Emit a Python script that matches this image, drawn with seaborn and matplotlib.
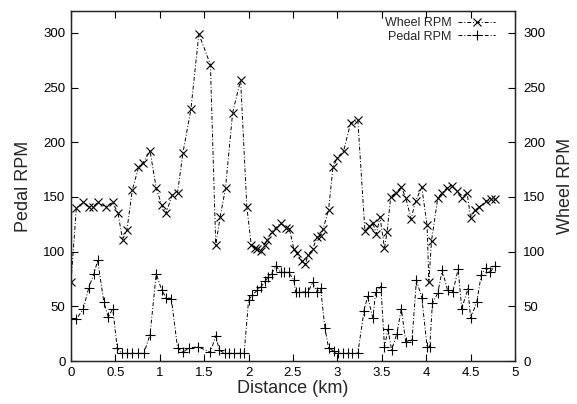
import matplotlib
matplotlib.use("Agg")
import matplotlib.pyplot as plt
import seaborn as sns
import pandas as pd

wheel_km = [0.00, 0.06, 0.14, 0.20, 0.25, 0.30, 0.39, 0.47, 0.53, 0.58, 0.63, 0.69,
            0.76, 0.81, 0.89, 0.96, 1.02, 1.07, 1.14, 1.20, 1.26, 1.35, 1.44, 1.57,
            1.63, 1.68, 1.74, 1.82, 1.91, 1.98, 2.03, 2.07, 2.10, 2.14, 2.18, 2.21,
            2.26, 2.31, 2.36, 2.42, 2.46, 2.51, 2.54, 2.60, 2.64, 2.67, 2.72, 2.77,
            2.81, 2.84, 2.90, 2.95, 3.00, 3.07, 3.15, 3.23, 3.31, 3.36, 3.40, 3.44,
            3.48, 3.53, 3.56, 3.60, 3.66, 3.72, 3.77, 3.83, 3.88, 3.95, 4.01, 4.03,
            4.06, 4.13, 4.18, 4.23, 4.29, 4.35, 4.40, 4.46, 4.50, 4.55, 4.60, 4.67,
            4.73, 4.77]
wheel_rpm = [72, 140, 145, 141, 141, 145, 141, 145, 135, 111, 120, 156,
             177, 181, 192, 158, 143, 135, 152, 154, 190, 230, 299, 271,
             106, 132, 158, 227, 257, 141, 106, 103, 102, 101, 106, 111,
             118, 122, 126, 122, 121, 102, 99, 91, 89, 97, 102, 113,
             114, 121, 138, 177, 186, 192, 218, 220, 119, 123, 126, 116,
             132, 103, 118, 150, 154, 159, 149, 130, 146, 159, 124, 72,
             110, 149, 154, 158, 160, 155, 149, 154, 131, 138, 141, 146,
             148, 148]

pedal_km = [0.00, 0.06, 0.14, 0.20, 0.26, 0.30, 0.37, 0.42, 0.47, 0.52, 0.57, 0.63,
            0.69, 0.75, 0.82, 0.89, 0.96, 1.02, 1.07, 1.13, 1.20, 1.26, 1.33, 1.43,
            1.57, 1.63, 1.67, 1.73, 1.78, 1.84, 1.90, 1.95, 2.00, 2.04, 2.10, 2.14,
            2.19, 2.22, 2.26, 2.31, 2.36, 2.40, 2.45, 2.51, 2.53, 2.57, 2.63, 2.67,
            2.72, 2.77, 2.81, 2.86, 2.90, 2.96, 3.01, 3.06, 3.12, 3.17, 3.23, 3.30,
            3.34, 3.40, 3.43, 3.49, 3.53, 3.57, 3.61, 3.67, 3.72, 3.77, 3.84, 3.89,
            3.95, 4.01, 4.04, 4.07, 4.13, 4.18, 4.24, 4.30, 4.36, 4.40, 4.47, 4.50,
            4.57, 4.62, 4.67, 4.72, 4.77]
pedal_rpm = [39, 38, 48, 67, 80, 92, 54, 40, 48, 12, 7, 7,
             7, 7, 7, 24, 80, 65, 58, 57, 12, 8, 12, 13,
             8, 23, 10, 7, 7, 7, 7, 7, 56, 60, 65, 68,
             73, 77, 80, 87, 81, 81, 81, 74, 63, 63, 63, 63,
             72, 63, 67, 30, 12, 9, 7, 7, 7, 7, 7, 46,
             59, 39, 63, 68, 13, 29, 10, 25, 48, 17, 19, 74,
             58, 13, 13, 53, 62, 83, 65, 63, 84, 48, 66, 39,
             54, 79, 85, 81, 87]

x_ticks = [0, 0.5, 1, 1.5, 2, 2.5, 3, 3.5, 4, 4.5, 5]
x_tick_labels = ["0", "0.5", "1", "1.5", "2", "2.5", "3", "3.5", "4", "4.5", "5"]
y_ticks = [0, 50, 100, 150, 200, 250, 300]

sns.set_theme(style="ticks")
plt.rcParams['font.family'] = ['Liberation Sans', 'DejaVu Sans']

fig = plt.figure(figsize=(5.77, 4.04), dpi=100)
ax = fig.add_axes([71/577, 1 - 361/404, (515 - 71)/577, (361 - 11)/404])

wheel_df = pd.DataFrame({"km": wheel_km, "rpm": wheel_rpm})
pedal_df = pd.DataFrame({"km": pedal_km, "rpm": pedal_rpm})

dash = (4, 2, 1, 2)
sns.lineplot(data=wheel_df, x="km", y="rpm", ax=ax, color="black", linewidth=0.7,
             marker="x", markersize=5.5, markeredgewidth=0.8, markeredgecolor="black",
             label="Wheel RPM")
sns.lineplot(data=pedal_df, x="km", y="rpm", ax=ax, color="black", linewidth=0.7,
             marker="+", markersize=6.5, markeredgewidth=0.8, markeredgecolor="black",
             label="Pedal RPM")
for ln in ax.get_lines():
    ln.set_dashes(dash)

ax.set_xlim(0, 5)
ax.set_ylim(0, 320)
ax.set_xticks(x_ticks)
ax.set_xticklabels(x_tick_labels)
ax.set_yticks(y_ticks)
ax.tick_params(direction="in", length=5, width=0.8, labelsize=9.5, colors="black",
               top=True, right=False, pad=4)
ax.set_xlabel("Distance (km)", fontsize=13, labelpad=1)
ax.set_ylabel("Pedal RPM", fontsize=13, labelpad=8)
for sp in ax.spines.values():
    sp.set_linewidth(0.9)
    sp.set_color("black")

ax2 = ax.twinx()
ax2.set_ylim(0, 320)
ax2.set_yticks(y_ticks)
ax2.tick_params(direction="in", length=5, width=0.8, labelsize=9.5, colors="black", pad=6)
ax2.set_ylabel("Wheel RPM", fontsize=13, labelpad=8)
for sp in ax2.spines.values():
    sp.set_linewidth(0.9)

leg = ax.legend(loc="upper right", frameon=False, markerfirst=False, fontsize=9,
                handlelength=3.0, handletextpad=0.5, labelspacing=0.1,
                borderaxespad=0.1, bbox_to_anchor=(0.97, 1.0))
for t in leg.get_texts():
    t.set_ha("right")

fig.savefig("out.png", dpi=100)
